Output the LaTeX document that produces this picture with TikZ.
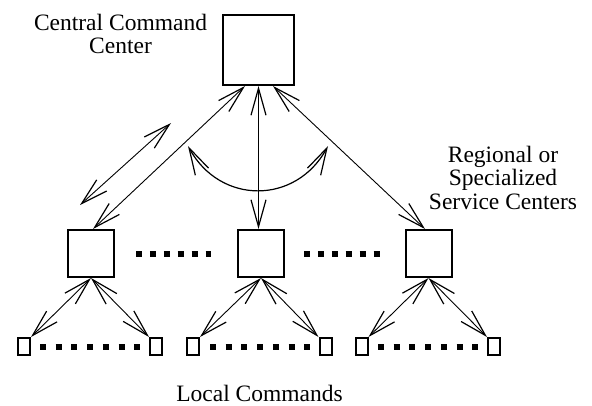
\documentclass[tikz,border=0pt]{standalone}
\usepackage{fontspec}
\setmainfont{Liberation Serif}
\usetikzlibrary{arrows.meta}

\begin{document}
\begin{tikzpicture}[x=1pt, y=-1pt, line width=0.9pt,
    >={Straight Barb[length=27pt,width=15pt,line width=1.2pt]},
    box/.style = {draw, line width=2pt, minimum width=71pt, minimum height=70pt, inner sep=0pt},
    mid/.style = {draw, line width=2pt, minimum width=46pt, minimum height=47pt, inner sep=0pt},
    leaf/.style = {draw, line width=2pt, minimum width=12pt, minimum height=17pt, inner sep=0pt},
    dots/.style = {line width=6pt, dash pattern=on 6pt off 7.9pt},
    ldots/.style = {line width=6pt, dash pattern=on 6pt off 9.7pt},
    lbl/.style = {align=center, inner sep=0pt, font=\fontsize{23.5}{23.5}\selectfont}]
    \useasboundingbox (0,0) rectangle (592,405);
    \node[box] (C) at (258.5,50) {};
    \node[mid] (L) at (91,253.5) {};
    \node[mid] (M) at (261,253.5) {};
    \node[mid] (R) at (428.5,253.5) {};
    \node[leaf] (L1) at (24,346.5) {};
    \node[leaf] (L2) at (156,346.5) {};
    \node[leaf] (M1) at (193,346.5) {};
    \node[leaf] (M2) at (325.5,346.5) {};
    \node[leaf] (R1) at (361.5,346.5) {};
    \node[leaf] (R2) at (494,346.5) {};
    \node[lbl] (ccc) at (120.5,34) {Central Command\\Center};
    \node[lbl] (rsc) at (503,177.5) {Regional or\\Specialized\\Service Centers};
    \node[lbl, anchor=base] (lc) at (259.5,401) {Local Commands};
    \coordinate (a1) at (171,123);
    \coordinate (a2) at (80,205);
    \coordinate (b1) at (188,146);
    \coordinate (b2) at (328,146);
    % center to regional
    \draw[<->] ([xshift=-13.5pt]C.south) -- ([xshift=2pt]L.north);
    \draw[<->, line width=1.6pt] (C.south) -- (C.south |- M.north);
    \draw[<->] ([xshift=14.5pt]C.south) -- ([xshift=-3.5pt]R.north);
    \draw[<->] (a1) -- (a2);
    \draw[<->, line width=1.2pt] (b1) .. controls (220,205) and (296,205) .. (b2);
    % regional to local
    \draw[<->] (L.south) -- (L1.north east);
    \draw[<->] (L.south) -- (L2.north west);
    \draw[<->] (M.south) -- (M1.north east);
    \draw[<->] (M.south) -- (M2.north west);
    \draw[<->] (R.south) -- (R1.north east);
    \draw[<->] (R.south) -- (R2.north west);
    % dotted rows
    \draw[dots, shorten <=21pt, shorten >=26pt] (L.east) -- (M.west);
    \draw[dots, shorten <=19pt, shorten >=24.5pt] (M.east) -- (R.west);
    \draw[ldots, shorten <=9pt, shorten >=9pt] (L1.east) -- (L2.west);
    \draw[ldots, shorten <=10pt, shorten >=7.5pt] (M1.east) -- (M2.west);
    \draw[ldots, shorten <=9.5pt, shorten >=5pt] (R1.east) -- (R2.west);
\end{tikzpicture}
\end{document}
